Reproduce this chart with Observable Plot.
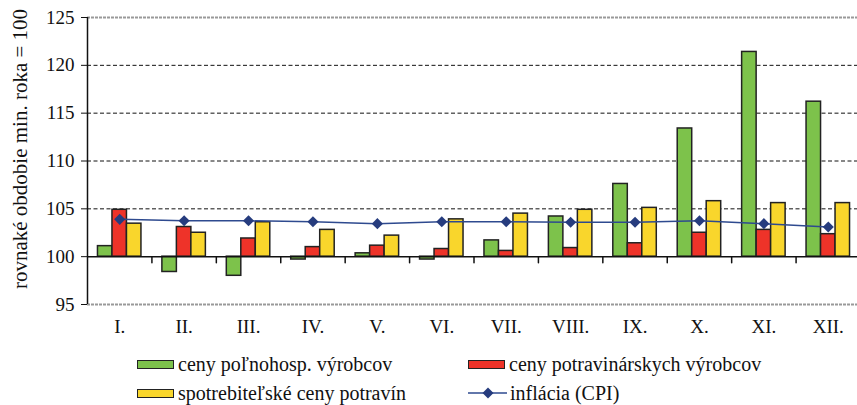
<!DOCTYPE html>
<html><head><meta charset="utf-8">
<script src="https://cdn.jsdelivr.net/npm/d3@7"></script>
<script src="https://cdn.jsdelivr.net/npm/@observablehq/plot@0.6"></script>
<style>
body{margin:0;background:#fff;font-family:"Liberation Serif",serif;color:#111}
#wrap{position:relative;width:857px;height:405px;overflow:hidden;background:#fff}
#chart{position:absolute;left:0;top:0}
.leg{position:absolute;font-family:"Liberation Serif",serif;font-size:20px;display:flex;align-items:center;white-space:nowrap;height:20px}
.sw{width:35px;height:7px;border:1.5px solid #222;margin-right:4px;box-sizing:content-box}
</style></head><body><div id="wrap"><div id="chart"></div></div>
<script>
const months = ["I.","II.","III.","IV.","V.","VI.","VII.","VIII.","IX.","X.","XI.","XII."];
const agri = [101.1, 98.4, 98.0, 99.7, 100.35, 99.7, 101.7, 104.2, 107.6, 113.4, 121.4, 116.2];
const food = [104.9, 103.1, 101.9, 101.0, 101.15, 100.8, 100.6, 100.9, 101.4, 102.5, 102.8, 102.35];
const consumer = [103.45, 102.5, 103.6, 102.8, 102.2, 103.9, 104.5, 104.9, 105.1, 105.8, 105.6, 105.6];
const cpi = [103.9, 103.75, 103.75, 103.65, 103.45, 103.65, 103.65, 103.6, 103.6, 103.75, 103.45, 103.1];
const seriesNames = ["ceny poľnohosp. výrobcov", "ceny potravinárskych výrobcov", "spotrebiteľské ceny potravín", "inflácia (CPI)"];
const seriesColors = ["#7DC24B", "#EE3329", "#F9D62C", "#263C7E"];
const yTicks = [95, 100, 105, 110, 115, 120, 125];
const yTitle = "rovnaké obdobie min. roka = 100";

const barW = 0.225;
const rows = [];
[agri, food, consumer].forEach((arr, k) => {
  arr.forEach((v, i) => rows.push({i, k, value: v, name: seriesNames[k]}));
});
const cpiRows = cpi.map((v, i) => ({i, value: v}));
const boundaries = d3.range(11).map(i => i + 0.5);

const plot = Plot.plot({
  width: 857, height: 345,
  marginLeft: 87, marginRight: 0, marginTop: 17, marginBottom: 41,
  x: {domain: [-0.5, 11.5], range: [87, 860]},
  y: {domain: [95, 125]},
  color: {domain: seriesNames.slice(0, 3), range: seriesColors.slice(0, 3)},
  style: {fontFamily: "'Liberation Serif', serif", fontSize: "19px", color: "#111", background: "white", overflow: "visible"},
  marks: [
    Plot.ruleY([105, 110, 115, 120], {stroke: "#111", strokeDasharray: "4,2.5", strokeWidth: 1}),
    Plot.ruleY([95, 125], {stroke: "#999", strokeDasharray: "3,1", strokeWidth: 2}),
    Plot.rect(rows, {
      x1: d => d.i + (d.k - 1.5) * barW,
      x2: d => d.i + (d.k - 0.5) * barW,
      y1: () => 100, y2: "value",
      fill: "name", stroke: "#222", strokeWidth: 1.5
    }),
    Plot.ruleY([100], {stroke: "#111", strokeWidth: 1.5}),
    Plot.vector(boundaries, {
      x: d => d, y: () => 100, length: 6, rotate: 180, anchor: "start",
      stroke: "#111", strokeWidth: 1.5,
      shape: {draw(context, l) { context.moveTo(0, 0); context.lineTo(0, -l); }}
    }),
    Plot.ruleX([-0.5], {stroke: "#111", strokeWidth: 1.5}),
    Plot.line(cpiRows, {x: "i", y: "value", stroke: "#2E4A8F", strokeWidth: 1.5}),
    Plot.dot(cpiRows, {x: "i", y: "value", symbol: "diamond2", r: 5, fill: seriesColors[3], stroke: "none"}),
    Plot.axisY({ticks: yTicks, tickSize: 6, tickPadding: 7, label: null, fontSize: 19}),
    Plot.axisX({ticks: d3.range(12), tickFormat: i => months[i], tickSize: 0, tickPadding: 15, label: null, fontSize: 19}),
    Plot.text([yTitle], {frameAnchor: "left", textAnchor: "middle", rotate: -90, dx: -67, dy: -12, fontSize: 21})
  ]
});
document.getElementById("chart").appendChild(plot);

// legend
const wrap = document.getElementById("wrap");
const legPos = [[137, 354], [468, 354], [137, 383], [468, 383]];
seriesNames.forEach((name, k) => {
  const el = document.createElement("div");
  el.className = "leg";
  el.style.left = legPos[k][0] + "px";
  el.style.top = legPos[k][1] + "px";
  if (k < 3) {
    const sw = document.createElement("span");
    sw.className = "sw";
    sw.style.background = seriesColors[k];
    el.appendChild(sw);
  } else {
    const ns = "http://www.w3.org/2000/svg";
    const svg = document.createElementNS(ns, "svg");
    svg.setAttribute("width", 39); svg.setAttribute("height", 14);
    svg.style.marginRight = "3px";
    const ln = document.createElementNS(ns, "line");
    ln.setAttribute("x1", 0); ln.setAttribute("x2", 39); ln.setAttribute("y1", 7); ln.setAttribute("y2", 7);
    ln.setAttribute("stroke", "#2E4A8F"); ln.setAttribute("stroke-width", 1.5);
    const dm = document.createElementNS(ns, "path");
    dm.setAttribute("d", "M20,1.5L25.5,7L20,12.5L14.5,7Z");
    dm.setAttribute("fill", seriesColors[3]);
    svg.appendChild(ln); svg.appendChild(dm);
    el.appendChild(svg);
  }
  const t = document.createElement("span");
  t.textContent = name;
  el.appendChild(t);
  wrap.appendChild(el);
});
</script></body></html>
